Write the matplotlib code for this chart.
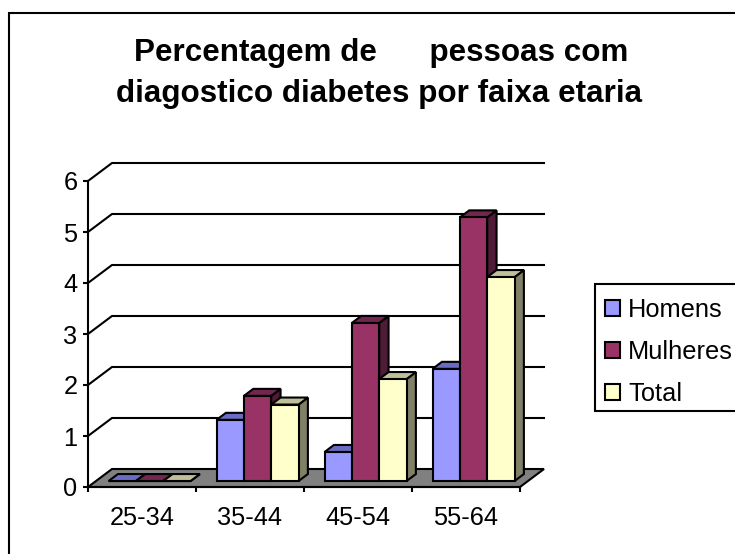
#!/usr/bin/env python3
import matplotlib
matplotlib.use('Agg')
import matplotlib.pyplot as plt
from matplotlib.patches import Polygon, Patch, Rectangle

plt.rcParams['font.family'] = ['Liberation Sans', 'DejaVu Sans']

categorias = ['25-34', '35-44', '45-54', '55-64']
homens = [0, 1.2, 0.57, 2.2]
mulheres = [0, 1.67, 3.1, 5.17]
total = [0, 1.5, 2.0, 4.0]

series = [homens, mulheres, total]
nomes = ['Homens', 'Mulheres', 'Total']
# frente, topo, lado
cores = [('#9999FF', '#6B6BC4', '#5C5C99'),
         ('#993366', '#732650', '#4F1B36'),
         ('#FFFFCC', '#BFBF99', '#808066')]

W, H = 735, 554
fig = plt.figure(figsize=(W / 100, H / 100), dpi=100, facecolor='white')
ax = fig.add_axes([88 / W, 1 - 487 / H, 432 / W, 306 / H])
ax.set_xlim(0, 4)
ax.set_ylim(0, 6)
ax.patch.set_visible(False)

# profundidade do grafico 3D em unidades dos eixos
DX = 24 / 108
DY = 18 / 51
LW = 1.5
LARG = 0.253
GAP = 0.117

# moldura do grafico, sai da imagem a direita e em baixo
fig.add_artist(Rectangle((9 / W, -0.1), 1.1, 1.1 - 12.5 / H, transform=fig.transFigure,
                         fill=False, edgecolor='black', linewidth=LW))

# chao
ax.add_patch(Polygon([(0, 0), (4, 0), (4 + DX, DY), (DX, DY)], closed=True,
                     facecolor='#808080', edgecolor='black', linewidth=LW,
                     clip_on=False, zorder=2))

# grades
for v in range(1, 7):
    ax.plot([0, DX, 4 + DX], [v, v + DY, v + DY], color='black', linewidth=LW,
            clip_on=False, zorder=1, solid_joinstyle='miter')


def barra(x, v, cor, z):
    x0 = x + 0.33 * DX
    y0 = 0.33 * DY
    ddx = 0.39 * DX
    ddy = 0.39 * DY
    frente = [(x0, y0), (x0 + LARG, y0), (x0 + LARG, y0 + v), (x0, y0 + v)]
    topo = [(x0, y0 + v), (x0 + LARG, y0 + v), (x0 + LARG + ddx, y0 + v + ddy), (x0 + ddx, y0 + v + ddy)]
    lado = [(x0 + LARG, y0), (x0 + LARG + ddx, y0 + ddy), (x0 + LARG + ddx, y0 + v + ddy), (x0 + LARG, y0 + v)]
    for pts, c in ((lado, cor[2]), (topo, cor[1]), (frente, cor[0])):
        ax.add_patch(Polygon(pts, closed=True, facecolor=c, edgecolor='black',
                             linewidth=LW, clip_on=False, zorder=z, joinstyle='miter'))


z = 3
for i in range(len(categorias)):
    for j, s in enumerate(series):
        barra(i + GAP + j * LARG, s[i], cores[j], z)
        z += 1

for lado in ('top', 'right'):
    ax.spines[lado].set_visible(False)
for lado in ('left', 'bottom'):
    ax.spines[lado].set_linewidth(LW)
    ax.spines[lado].set_zorder(50)

ax.set_yticks(range(7))
ax.tick_params(axis='y', labelsize=18.3, length=3.5, width=LW, pad=4)
ax.set_xticks(range(5))
ax.set_xticklabels([])
ax.tick_params(axis='x', which='major', length=3.5, width=LW)
ax.set_xticks([i + 0.5 for i in range(4)], minor=True)
ax.set_xticklabels(categorias, minor=True)
ax.tick_params(axis='x', which='minor', length=0, labelsize=18.3, pad=14)

fig.text(381 / W, 1 - 53 / H, 'Percentagem de      pessoas com', ha='center', va='center',
         fontsize=22.6, fontweight='bold')
fig.text(379 / W, 1 - 94 / H, 'diagostico diabetes por faixa etaria', ha='center', va='center',
         fontsize=22.6, fontweight='bold')

# caixa da legenda separada: o texto fica mais baixo dentro dela
fig.add_artist(Rectangle((595 / W, 1 - 411 / H), 160 / W, 127 / H, transform=fig.transFigure,
                         facecolor='white', edgecolor='black', linewidth=LW))
handles = [Patch(facecolor=c[0], edgecolor='black', linewidth=LW) for c in cores]
leg = fig.legend(handles, nomes, loc='upper left', bbox_to_anchor=(595 / W, 1 - 288 / H),
                 borderaxespad=0, fontsize=18.3, frameon=False,
                 handlelength=0.6, handleheight=0.6,
                 handletextpad=0.32, labelspacing=0.72, borderpad=0.38)

fig.savefig('out.png', dpi=100)
